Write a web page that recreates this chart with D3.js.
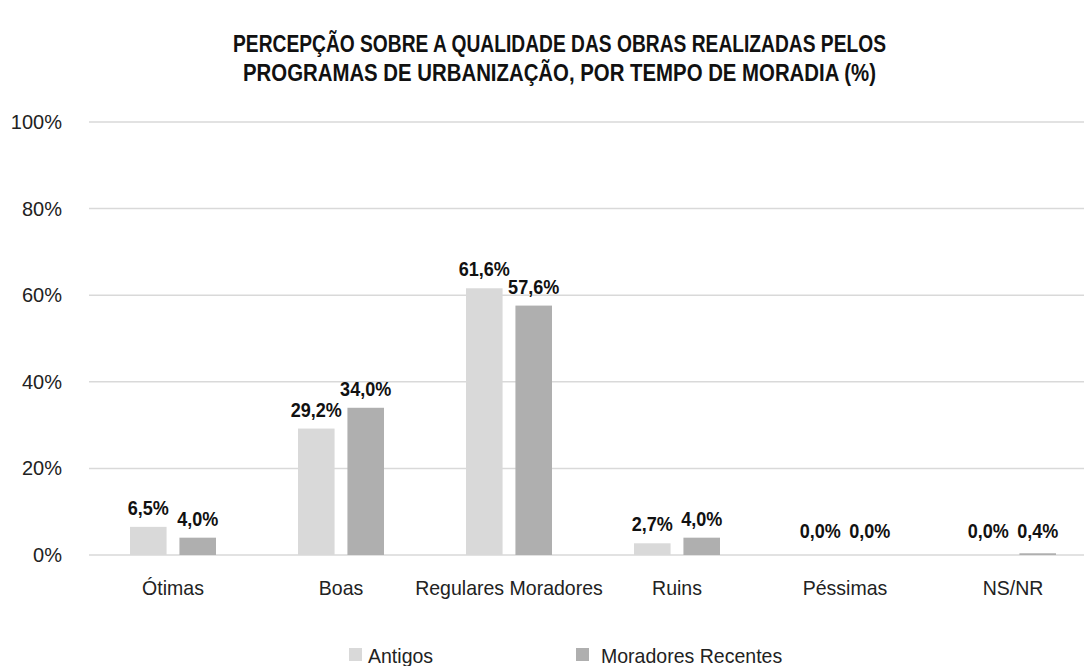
<!DOCTYPE html>
<html>
<head>
<meta charset="utf-8">
<script src="https://cdn.jsdelivr.net/npm/d3@7"></script>
<style>
  body { margin: 0; background: #fff; }
  svg text { font-family: "Liberation Sans", Arial, sans-serif; }
</style>
</head>
<body>
<div class="canvas"></div>
<script>
// data
const categories = ['Ótimas', 'Boas', 'Regulares Moradores', 'Ruins', 'Péssimas', 'NS/NR'];
const antigos = [6.5, 29.2, 61.6, 2.7, 0.0, 0.0];
const recentes = [4.0, 34.0, 57.6, 4.0, 0.0, 0.4];
const seriesNames = ['Antigos', 'Moradores Recentes'];
const yTicks = [0, 20, 40, 60, 80, 100];
const titleLines = [
  'PERCEPÇÃO SOBRE A QUALIDADE DAS OBRAS REALIZADAS PELOS',
  'PROGRAMAS DE URBANIZAÇÃO, POR TEMPO DE MORADIA (%)'
];

const colors = ['#d9d9d9', '#afafaf'];

const width = 1084, height = 666;

// the reference font is a condensed grotesk, so squeeze the text a bit
const narrow = 'scale(0.93, 1)';

const svg = d3.select('.canvas')
  .append('svg')
    .attr('width', width)
    .attr('height', height);

// title
svg.append('g')
  .selectAll('text')
  .data(titleLines)
  .enter().append('text')
    .attr('x', (d, i) => i === 0 ? 233 : 243)
    .attr('y', (d, i) => 52 + i * 29)
    .attr('textLength', (d, i) => i === 0 ? 653 : 633)
    .attr('lengthAdjust', 'spacingAndGlyphs')
    .attr('font-size', 23)
    .attr('font-weight', 'bold')
    .attr('fill', '#111')
    .text(d => d);

// scales
const y = d3.scaleLinear().domain([0, 100]).range([555, 122]);
const x = d3.scaleBand().domain(categories).range([89, 1097]);
const inner = d3.scaleBand().domain(seriesNames)
  .range([x.bandwidth() / 2 - 43, x.bandwidth() / 2 + 43])
  .paddingInner(0.26);

// gridlines
svg.append('g')
  .selectAll('line')
  .data(yTicks)
  .enter().append('line')
    .attr('x1', 89)
    .attr('x2', width)
    .attr('y1', d => y(d))
    .attr('y2', d => y(d))
    .attr('stroke', '#d9d9d9')
    .attr('stroke-width', 1.5);

// y axis labels
const yAxis = d3.axisLeft(y)
  .tickValues(yTicks)
  .tickFormat(d => d + '%')
  .tickSize(0)
  .tickPadding(0);
const yAxisGroup = svg.append('g')
  .attr('transform', 'translate(62, 0)')
  .call(yAxis);
yAxisGroup.select('.domain').remove();
yAxisGroup.selectAll('text')
  .attr('font-size', 20)
  .attr('fill', '#222')
  .attr('font-family', null);

// x axis labels
const xAxis = d3.axisBottom(x).tickSize(0).tickPadding(0);
const xAxisGroup = svg.append('g')
  .attr('transform', 'translate(0, 0)')
  .call(xAxis);
xAxisGroup.select('.domain').remove();
xAxisGroup.selectAll('text')
  .attr('font-size', 21)
  .attr('fill', '#222')
  .attr('font-family', null)
  .attr('y', 595)
  .attr('dy', null)
  .attr('transform', narrow);

// bars
const rows = categories.map((c, i) => ({ cat: c, vals: [antigos[i], recentes[i]] }));

const groups = svg.append('g')
  .selectAll('g')
  .data(rows)
  .enter().append('g')
    .attr('transform', d => `translate(${x(d.cat)}, 0)`);

const cells = d => d.vals.map((v, j) => ({ name: seriesNames[j], v, j }));

groups.selectAll('rect')
  .data(cells)
  .enter().append('rect')
    .attr('x', d => inner(d.name))
    .attr('width', inner.bandwidth())
    .attr('y', d => y(d.v))
    .attr('height', d => y(0) - y(d.v))
    .attr('fill', d => colors[d.j]);

// value labels
groups.selectAll('text')
  .data(cells)
  .enter().append('text')
    .attr('transform', d => {
      const cx = inner(d.name) + inner.bandwidth() / 2;
      const cy = Math.min(y(d.v) - 12, 538);
      return `translate(${cx}, ${cy}) scale(0.86, 1)`;
    })
    .attr('text-anchor', 'middle')
    .attr('font-size', 21)
    .attr('font-weight', 'bold')
    .attr('fill', '#111')
    .text(d => d.v.toFixed(1).replace('.', ',') + '%');

// legend
const legendX = [349, 576];
const legend = svg.append('g')
  .selectAll('g')
  .data(seriesNames)
  .enter().append('g')
    .attr('transform', (d, i) => `translate(${legendX[i]}, 648)`);

legend.append('rect')
  .attr('width', 13)
  .attr('height', 13)
  .attr('fill', (d, i) => colors[i]);

legend.append('text')
  .attr('transform', (d, i) => `translate(${i === 0 ? 19 : 25}, 15) ${narrow}`)
  .attr('font-size', 21)
  .attr('fill', '#222')
  .text(d => d);
</script>
</body>
</html>
